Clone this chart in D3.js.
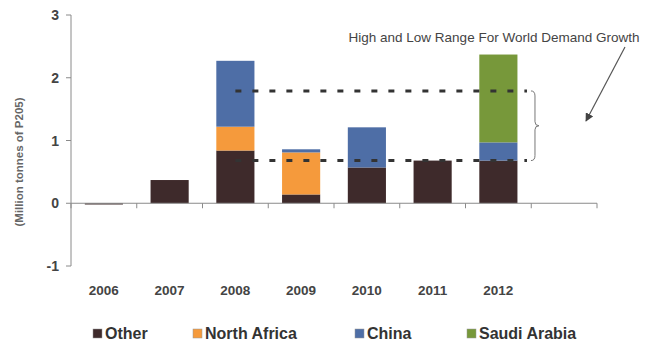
<!DOCTYPE html>
<html>
<head>
<meta charset="utf-8">
<script src="https://cdnjs.cloudflare.com/ajax/libs/d3/7.8.5/d3.min.js"></script>
<style>
  body { margin: 0; background: #fff; }
  svg { display: block; font-family: Arial, "Liberation Sans", sans-serif; }
</style>
</head>
<body>
<svg id="chart" width="658" height="343"></svg>
<script>
// data (million tonnes P2O5)
const years = ['2006', '2007', '2008', '2009', '2010', '2011', '2012', ''];
const other       = [-0.02, 0.37, 0.84, 0.14, 0.57, 0.68, 0.68, 0];
const northAfrica = [0,     0,    0.38, 0.67, 0,    0,    0,    0];
const china       = [0,     0,    1.05, 0.05, 0.64, 0,    0.29, 0];
const saudiArabia = [0,     0,    0,    0,    0,    0,    1.40, 0];
const seriesNames = ['Other', 'North Africa', 'China', 'Saudi Arabia'];
const colors = ['#3e2a2b', '#f59a3c', '#4e6ea6', '#77983a'];
const yTicks = [-1, 0, 1, 2, 3];
const demandRange = [0.68, 1.79]; // low, high
const rangeFrom = '2008', rangeTo = '2012';

const svg = d3.select('#chart');
const x = d3.scaleBand().domain(years).range([71, 597]).paddingInner(0.42).paddingOuter(0.21);
const y = d3.scaleLinear().domain([-1, 3]).range([266, 15]);

// stacked bars
const rows = years.map((yr, i) => ({ year: yr, vals: [other[i], northAfrica[i], china[i], saudiArabia[i]] }));
rows.forEach(r => {
  let base = 0;
  r.vals.forEach((v, k) => {
    if (v === 0) return;
    const y0 = v < 0 ? v : base, y1 = v < 0 ? 0 : base + v;
    svg.append('rect')
      .attr('x', x(r.year)).attr('width', x.bandwidth())
      .attr('y', y(y1)).attr('height', Math.max(1, y(y0) - y(y1)))
      .attr('fill', colors[k]);
    if (v > 0) base += v;
  });
});

// axes
const axisColor = '#8a8a8a';
svg.append('line').attr('x1', 71).attr('x2', 71).attr('y1', y(3)).attr('y2', y(-1))
  .attr('stroke', axisColor);
yTicks.forEach(t => {
  svg.append('line').attr('x1', 66).attr('x2', 71).attr('y1', y(t)).attr('y2', y(t)).attr('stroke', axisColor);
  svg.append('text').attr('x', 59).attr('y', y(t) + 5).attr('text-anchor', 'end')
    .attr('font-size', 14).attr('font-weight', 'bold').attr('fill', '#444').text(t);
});
svg.append('line').attr('x1', 71).attr('x2', 597).attr('y1', y(0)).attr('y2', y(0)).attr('stroke', axisColor);
const step = x.step();
d3.range(years.length + 1).forEach(i => {
  const px = 71 + i * step;
  svg.append('line').attr('x1', px).attr('x2', px).attr('y1', y(0)).attr('y2', y(0) + 5).attr('stroke', axisColor);
});
years.forEach(yr => {
  if (!yr) return;
  svg.append('text').attr('x', x(yr) + x.bandwidth() / 2).attr('y', 295).attr('text-anchor', 'middle')
    .attr('font-size', 13.5).attr('font-weight', 'bold').attr('fill', '#444').text(yr);
});

svg.append('text').attr('transform', 'translate(23,162) rotate(-90)').attr('text-anchor', 'middle')
  .attr('font-size', 11.5).attr('font-weight', 'bold').attr('fill', '#666')
  .text('(Million  tonnes of P205)');

// demand range dashed lines
const xs = x(rangeFrom) + x.bandwidth() / 2, xe = x(rangeTo) + x.bandwidth() * 1.25;
demandRange.forEach(v => {
  svg.append('line').attr('x1', xs).attr('x2', xe).attr('y1', y(v)).attr('y2', y(v))
    .attr('stroke', '#333').attr('stroke-width', 3).attr('stroke-dasharray', '6,11');
});

// brace
const bx = xe + 4, yt = y(demandRange[1]), yb = y(demandRange[0]), ym = (yt + yb) / 2;
svg.append('path')
  .attr('d', `M${bx},${yt} Q${bx + 4},${yt} ${bx + 4},${yt + 5} L${bx + 4},${ym - 4} Q${bx + 4},${ym} ${bx + 8},${ym}` +
    ` Q${bx + 4},${ym} ${bx + 4},${ym + 4} L${bx + 4},${yb - 5} Q${bx + 4},${yb} ${bx},${yb}`)
  .attr('fill', 'none').attr('stroke', '#777').attr('stroke-width', 1);

// arrow
svg.append('defs').append('marker').attr('id', 'arr').attr('viewBox', '0 0 10 10')
  .attr('refX', 9).attr('refY', 5).attr('markerWidth', 7).attr('markerHeight', 7).attr('orient', 'auto')
  .append('path').attr('d', 'M0,0 L10,5 L0,10 z').attr('fill', '#444');
svg.append('line').attr('x1', 625).attr('y1', 47).attr('x2', 586).attr('y2', 121)
  .attr('stroke', '#555').attr('stroke-width', 1.2).attr('marker-end', 'url(#arr)');

svg.append('text').attr('x', 494).attr('y', 42).attr('text-anchor', 'middle')
  .attr('font-size', 13.5).attr('fill', '#444').text('High and Low Range For World Demand Growth');

// legend
const legendX = [93, 193, 355, 467];
seriesNames.forEach((n, k) => {
  svg.append('rect').attr('x', legendX[k]).attr('y', 329).attr('width', 9).attr('height', 9).attr('fill', colors[k])
    .attr('stroke', '#999').attr('stroke-width', 0.5);
  svg.append('text').attr('x', legendX[k] + 12).attr('y', 339).attr('font-size', 16).attr('font-weight', 'bold')
    .attr('fill', '#333').text(n);
});
</script>
</body>
</html>
